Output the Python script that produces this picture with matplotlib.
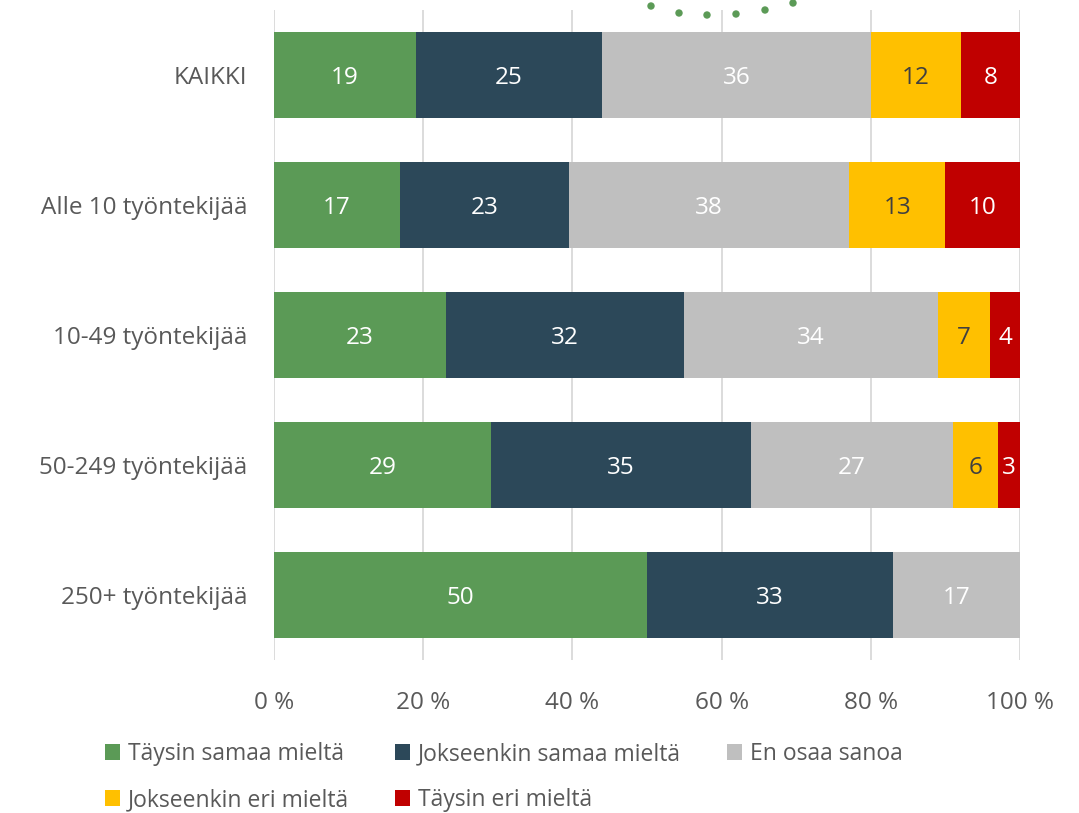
import numpy as np
import matplotlib.pyplot as plt
from matplotlib.patches import Ellipse

plt.rcParams['font.family'] = ['Open Sans', 'DejaVu Sans']

# Datos (porcentajes)
categorias = ['KAIKKI', 'Alle 10 työntekijää', '10-49 työntekijää',
              '50-249 työntekijää', '250+ työntekijää']
series = ['Täysin samaa mieltä', 'Jokseenkin samaa mieltä', 'En osaa sanoa',
          'Jokseenkin eri mieltä', 'Täysin eri mieltä']
taysin_samaa = [19.0, 16.9, 23.1, 29.1, 50.0]
jokseenkin_samaa = [25.0, 22.6, 31.9, 34.8, 33.0]
en_osaa = [36.0, 37.6, 34.0, 27.1, 17.0]
jokseenkin_eri = [12.1, 12.9, 7.0, 6.0, 0.0]
taysin_eri = [7.9, 10.0, 4.0, 3.0, 0.0]

valores = [taysin_samaa, jokseenkin_samaa, en_osaa, jokseenkin_eri, taysin_eri]
colores = ['#5B9A56', '#2C4859', '#BFBFBF', '#FFC000', '#C00000']
color_texto = ['white', 'white', 'white', '#404040', 'white']

W, H = 1079, 813
fig = plt.figure(figsize=(W / 100, H / 100), dpi=100)
ax = fig.add_axes([274 / W, (H - 660) / H, (1020 - 274) / W, 650 / H])

y = np.arange(len(categorias))
izq = np.zeros(len(categorias))
handles = []
for nombre, vals, col, ct in zip(series, valores, colores, color_texto):
    vals = np.array(vals)
    barras = ax.barh(y, vals, left=izq, height=0.66, color=col, label=nombre, zorder=3)
    handles.append(barras)
    for b, v in zip(barras, vals):
        if v > 0:
            ax.text(b.get_x() + b.get_width() / 2, b.get_y() + b.get_height() / 2 + 0.02,
                    f'{int(round(v))}', ha='center', va='center', color=ct,
                    fontsize=17.5, zorder=4)
    izq += vals

ax.set_xlim(0, 100)
ax.set_ylim(len(categorias) - 0.5, -0.5)
ax.set_yticks(y)
ax.set_yticklabels(categorias)
ax.set_xticks(np.arange(0, 101, 20))
ax.set_xticklabels([f'{v} %' for v in range(0, 101, 20)])
ax.tick_params(axis='both', length=0, labelsize=17.5, colors='#595959')
ax.tick_params(axis='y', pad=19)
ax.tick_params(axis='x', pad=22)
ax.grid(axis='x', color='#D9D9D9', linewidth=1.3, zorder=0)
for s in ax.spines.values():
    s.set_visible(False)

# orden por filas (la leyenda de matplotlib llena por columnas)
orden = [0, 3, 1, 4, 2]
ax.legend([handles[i] for i in orden], [series[i] for i in orden],
          loc='upper left', bbox_to_anchor=(96 / W, 1 - 733 / H), bbox_transform=fig.transFigure,
          ncol=3, frameon=False, fontsize=16.5, labelcolor='#595959',
          handlelength=0.65, handleheight=0.65, handletextpad=0.35,
          columnspacing=2.0, labelspacing=0.95, borderaxespad=0)

# Puntos decorativos arriba (logo recortado)
puntos = [(651, 6), (679, 13), (707, 15), (736, 14), (765, 10), (793, 3)]
for px, py in puntos:
    fig.add_artist(Ellipse((px / W, 1 - py / H), 6 / W, 6 / H,
                           transform=fig.transFigure, color='#5B9A56'))

fig.savefig('out.png', dpi=100)
